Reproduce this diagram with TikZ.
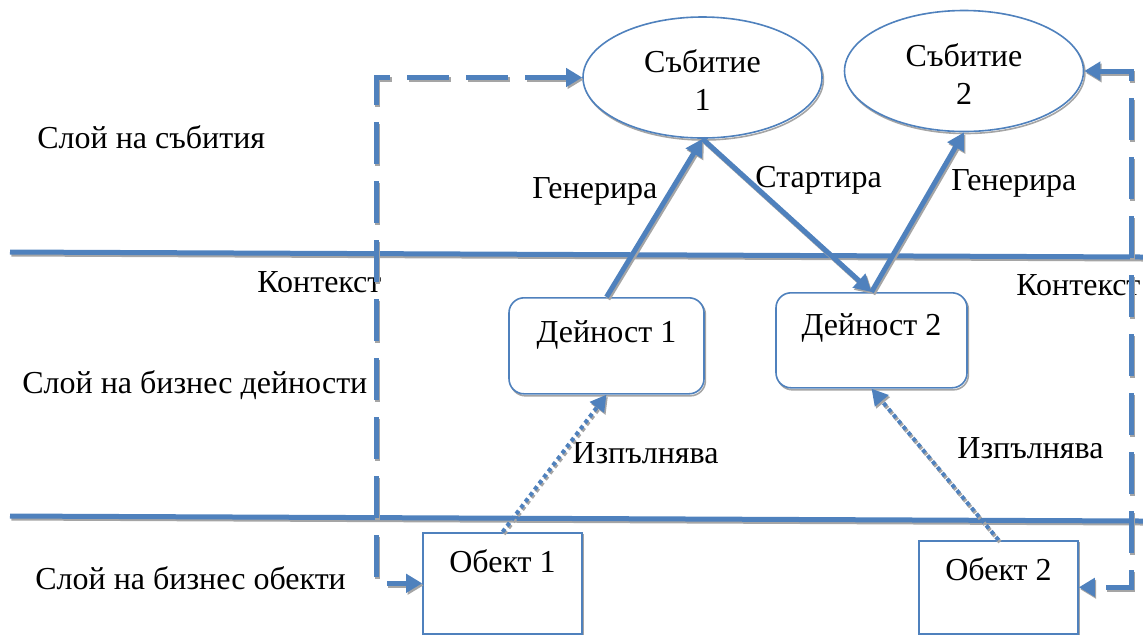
\documentclass[tikz,border=0pt]{standalone}
\usepackage{fontspec}
\setmainfont{Liberation Serif}
\usepackage{tikz}
\usetikzlibrary{shapes.geometric, arrows.meta, positioning}
\definecolor{layerblue}{HTML}{4F81BD}
\definecolor{shadowgray}{HTML}{A5A5A5}

\begin{document}
\begin{tikzpicture}[x=0.5pt, y=-0.5pt,
        every node/.style={font=\fontsize{16}{19}\selectfont},
        % Define common styles for nodes
        shadowed/.style={preaction={draw=shadowgray, transform canvas={shift={(0.7pt,-1pt)}}, #1}},
        shadowed/.default={},
        event_node/.style={ellipse, draw=layerblue, line width=0.8pt, fill=white, minimum width=119.5pt, minimum height=60.5pt, inner sep=0pt, text height=33pt, align=center, shadowed={line width=0.8pt}},
        activity_box/.style={rectangle, draw=layerblue, line width=0.8pt, fill=white, rounded corners=7.5pt, inner sep=0pt, anchor=north, shadowed={line width=0.8pt}},
        object_box/.style={rectangle, draw=layerblue, line width=0.8pt, fill=white, inner sep=0pt, anchor=north, minimum width=79.5pt, shadowed={line width=0.8pt}},
        plain_text/.style={anchor=base west, inner sep=0pt},
        % Styles for the connectors
        layer_line/.style={draw=layerblue, line width=2.5pt, shadowed={line width=2.5pt}},
        main_link/.style={draw=layerblue, line width=2.5pt, -{Triangle[length=8.5pt, width=9pt]}, shadowed={line width=2.5pt, -{Triangle[length=8.5pt, width=9pt]}}},
        dot_link/.style={draw=layerblue, line width=2pt, dash pattern=on 2pt off 1.8pt, -{Triangle[length=8pt, width=8.5pt]}, shadowed={line width=2pt, dash pattern=on 2pt off 1.8pt, -{Triangle[length=8pt, width=8.5pt]}}},
        dash_link/.style={draw=layerblue, line width=2.5pt, dash pattern=on 21pt off 8.5pt, {Triangle[length=8pt, width=9pt]}-{Triangle[length=8pt, width=9pt]}, shadowed={line width=2.5pt, dash pattern=on 21pt off 8.5pt, {Triangle[length=8pt, width=9pt]}-{Triangle[length=8pt, width=9pt]}}},
    ]
    \useasboundingbox (0,0) rectangle (1143,634);

    % Layer boundaries
    \coordinate (upper_left) at (10,252);
    \coordinate (upper_right) at (1143,257);
    \coordinate (lower_left) at (10,516);
    \coordinate (lower_right) at (1143,521);
    \draw[layer_line] (upper_left) -- (upper_right);
    \draw[layer_line] (lower_left) -- (lower_right);

    % Event layer
    \node (event_one) [event_node] at (702.5,77.5) {Събитие\\1};
    \node (event_two) [event_node] at (964,71) {Събитие\\2};

    % Business activity layer
    \node (act_one) [activity_box, minimum width=97.5pt, text height=22.5pt, text depth=25.5pt] at (606.5,297) {Дейност 1};
    \node (act_two) [activity_box, minimum width=95.5pt, text height=21.5pt, text depth=26pt] at (871.5,292) {Дейност 2};

    % Business object layer
    \node (obj_one) [object_box, text height=20pt, text depth=30.5pt] at (502.5,532) {Обект 1};
    \node (obj_two) [object_box, text height=20pt, text depth=26.5pt] at (998.5,540) {Обект 2};

    % Layer names and labels
    \node (events_name) [plain_text] at (37,148) {Слой на събития};
    \node (acts_name) [plain_text] at (22,393) {Слой на бизнес дейности};
    \node (objs_name) [plain_text] at (35,589) {Слой на бизнес обекти};
    \node (ctx_left) [plain_text] at (257,292) {Контекст};
    \node (ctx_right) [plain_text] at (1016,295) {Контекст};
    \node (gen_one) [plain_text] at (532,198) {Генерира};
    \node (start_lbl) [plain_text] at (755,187) {Стартира};
    \node (gen_two) [plain_text] at (951,190) {Генерира};
    \node (exec_one) [plain_text] at (572,463) {Изпълнява};
    \node (exec_two) [plain_text] at (957,458) {Изпълнява};

    % Context connectors
    \coordinate (ctx_left_x) at (376,0);
    \coordinate (ctx_right_x) at (1131,0);
    \draw[dash_link] (event_one.west) -- (event_one.west -| ctx_left_x) -- (obj_one.west -| ctx_left_x) -- (obj_one.west);
    \draw[dash_link] (event_two.east) -- (event_two.east -| ctx_right_x) -- (obj_two.east -| ctx_right_x) -- (obj_two.east);

    % Draw connections/arrows
    \draw[main_link] (act_one.north) -- (event_one.south);
    \draw[main_link] (event_one.south) -- (act_two.north);
    \draw[main_link] (act_two.north) -- (event_two.south);
    \draw[dot_link] (obj_one.north) -- (act_one.south);
    \draw[dot_link] (obj_two.north) -- (act_two.south);

\end{tikzpicture}
\end{document}
